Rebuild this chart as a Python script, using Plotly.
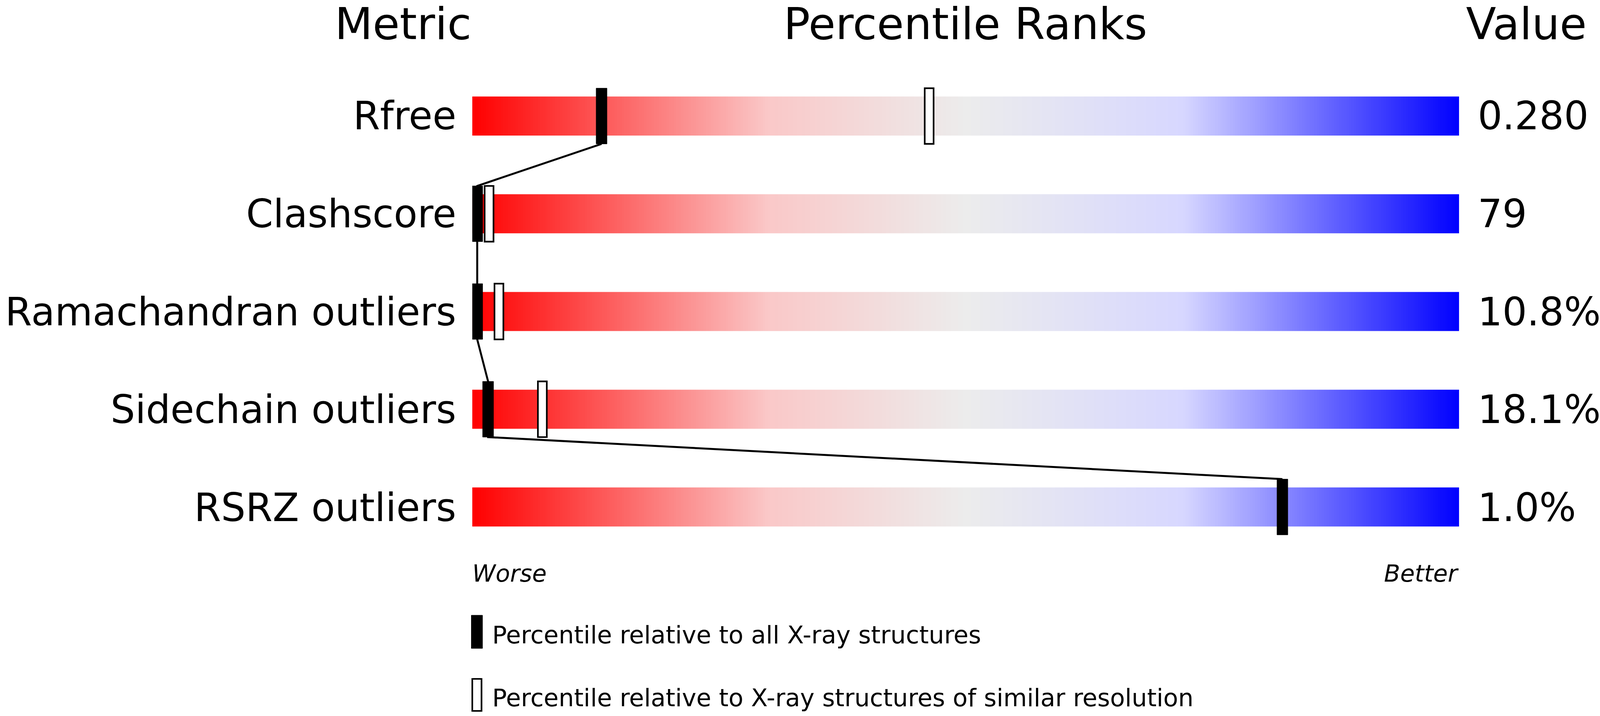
import numpy as np
import plotly.graph_objects as go

W, H = 4858, 1833
metrics = ["Rfree", "Clashscore", "Ramachandran outliers", "Sidechain outliers", "RSRZ outliers"]
values = ["0.280", "79", "10.8%", "18.1%", "1.0%"]
pct_all = [13.1, 0.5, 0.5, 1.6, 82.1]
pct_sim = [46.3, 1.7, 2.7, 7.1, None]

S = 0.84  # font/line scale for effective viewport

def px(x): return x / W
def py(y): return 1 - y / H

x0p, x1p = 1434, 4430
fig = go.Figure()
grad = np.linspace(0, 100, 400)
cs = [[0, "rgb(255,0,0)"], [0.3, "rgb(250,200,200)"], [0.5, "rgb(236,236,236)"],
      [0.72, "rgb(215,215,255)"], [1, "rgb(0,0,255)"]]
for i in range(len(metrics)):
    fig.add_trace(go.Heatmap(x=grad, y=[i - 0.2, i + 0.2], z=[grad], colorscale=cs,
                             showscale=False, hoverinfo="skip", zmin=0, zmax=100))

hh = 0.285
lx, ly = [], []
for i, p in enumerate(pct_all):
    lx += [p, p]; ly += [i - hh, i + hh]
fig.add_trace(go.Scatter(x=lx[1:-1], y=ly[1:-1], mode="lines", line=dict(color="black", width=6 * S),
                         hoverinfo="skip", showlegend=False))
shapes = []
for i, p in enumerate(pct_sim):
    if p is not None:
        shapes.append(dict(type="rect", x0=p - 0.45, x1=p + 0.45, y0=i - hh, y1=i + hh,
                           line=dict(color="black", width=5 * S), fillcolor="white", layer="above"))
for i, p in enumerate(pct_all):
    shapes.append(dict(type="rect", x0=p - 0.55, x1=p + 0.55, y0=i - hh, y1=i + hh,
                       line=dict(color="black", width=1), fillcolor="black", layer="above"))
shapes.append(dict(type="rect", xref="paper", yref="paper", x0=px(1431), x1=px(1465),
                   y0=py(1660), y1=py(1575), fillcolor="black", line=dict(color="black", width=1)))
shapes.append(dict(type="rect", xref="paper", yref="paper", x0=px(1434), x1=px(1462),
                   y0=py(1820), y1=py(1738), fillcolor="white", line=dict(color="black", width=5 * S)))

F = "DejaVu Sans"
ann = []
def t(x, y, s, size, xa="center", italic=False):
    ann.append(dict(x=px(x), y=py(y), xref="paper", yref="paper", text=s, showarrow=False,
                    xanchor=xa, yanchor="middle",
                    font=dict(family=F, size=size * S, color="black", style="italic" if italic else "normal")))
t(1224, 62, "Metric", 134)
t(2931, 62, "Percentile Ranks", 134)
t(4635, 62, "Value", 134)
for i, (m, v) in enumerate(zip(metrics, values)):
    yy = 297 + i * 250.5
    t(1388, yy, m, 118, "right")
    t(4484, yy, v, 118, "left")
t(1431, 1468, "Worse", 72, "left", True)
t(4431, 1468, "Better", 72, "right", True)
t(1492, 1625, "Percentile relative to all X-ray structures", 74, "left")
t(1492, 1786, "Percentile relative to X-ray structures of similar resolution", 74, "left")

fig.update_layout(autosize=True, margin=dict(l=0, r=0, t=0, b=0),
                  plot_bgcolor="white", paper_bgcolor="white", showlegend=False,
                  shapes=shapes, annotations=ann,
                  xaxis=dict(domain=[px(x0p), px(x1p)], range=[0, 100], visible=False),
                  yaxis=dict(domain=[py(1423), py(172)], range=[4.5, -0.5], visible=False))
fig.write_html("out.html", default_width="100vw", default_height="100vh",
               config={"responsive": True, "displayModeBar": False})
with open("out.html") as f:
    html = f.read()
html = html.replace("<head>", "<head><style>html,body{margin:0;padding:0;overflow:hidden}</style>", 1)
with open("out.html", "w") as f:
    f.write(html)
